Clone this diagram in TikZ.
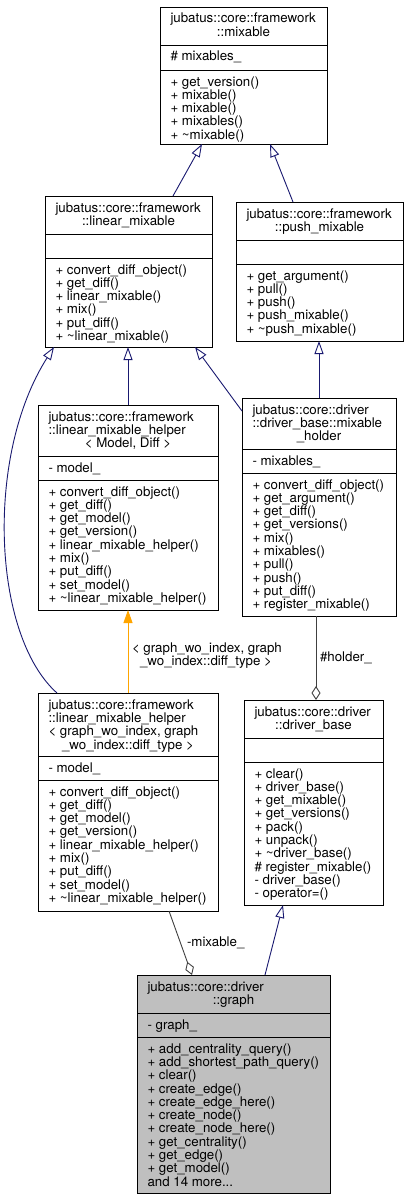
\documentclass[tikz,border=0pt]{standalone}
\usepackage{fontspec}
\setmainfont{TeX Gyre Heros}
\usetikzlibrary{arrows.meta,calc}
\definecolor{edgeblue}{HTML}{191970}
\definecolor{aggr}{HTML}{404040}
\definecolor{tmpl}{HTML}{FFA500}
\definecolor{mainfill}{HTML}{BFBFBF}
\tikzset{
  classbox/.style={draw=black, line width=0.9pt, inner sep=0pt, outer sep=0pt, anchor=north west},
  sepline/.style={draw=black, line width=0.9pt},
  txt/.style={inner sep=0pt, outer sep=0pt, font=\fontsize{13.3}{16}\selectfont},
  inherit/.style={draw=edgeblue, line width=0.9pt, -{Triangle[open, length=13pt, width=9pt]}},
  tmplarrow/.style={draw=tmpl, line width=0.9pt, -{Triangle[length=13pt, width=9pt, fill=tmpl]}},
  aggregate/.style={draw=aggr, line width=0.9pt, -{Diamond[open, length=14pt, width=9pt]}},
}
\newcommand\tdots{...}
\newcommand\mlines[4]{%
  \foreach \t [count=\i from 0] in {#4} {%
    \node[txt, anchor=base west] (#1\i) at (#2, {#3+\i*13.33}) {\t};
  }}
\begin{document}
\begin{tikzpicture}[x=1pt, y=-1pt]
\useasboundingbox (0,0) rectangle (408,1199);
\fill[white] (0,0) rectangle (408,1199);

% ---------- mixable
\node[classbox, minimum width=167pt, minimum height=137pt] (mixable) at (160,7) {};
\draw[sepline] (160,45) -- (327,45);
\draw[sepline] (160,70) -- (327,70);
\node[txt, anchor=base west] (mixT1) at (170.5,23) {jubatus::core::framework};
\node[txt, anchor=base] (mixT2) at (243.5,36.3) {::mixable};
\node[txt, anchor=base west] (mixA) at (170.5,61) {\# mixables\_};
\mlines{mixM}{170.5}{86}{+ get\_version(), + mixable(), + mixable(), + mixables(), + \textasciitilde mixable()}

% ---------- linear_mixable
\node[classbox, minimum width=167pt, minimum height=151pt] (linmix) at (45,196) {};
\draw[sepline] (45,234) -- (212,234);
\draw[sepline] (45,258) -- (212,258);
\node[txt, anchor=base west] (lmT1) at (55.5,212) {jubatus::core::framework};
\node[txt, anchor=base] (lmT2) at (128.5,225.3) {::linear\_mixable};
\mlines{lmM}{55.5}{274}{+ convert\_diff\_object(), + get\_diff(), + linear\_mixable(), + mix(), + put\_diff(), + \textasciitilde linear\_mixable()}

% ---------- push_mixable
\node[classbox, minimum width=167pt, minimum height=139pt] (pushmix) at (236,202) {};
\draw[sepline] (236,240) -- (403,240);
\draw[sepline] (236,264) -- (403,264);
\node[txt, anchor=base west] (pmT1) at (246.5,218) {jubatus::core::framework};
\node[txt, anchor=base] (pmT2) at (319.5,231.3) {::push\_mixable};
\mlines{pmM}{246.5}{280}{+ get\_argument(), + pull(), + push(), + push\_mixable(), + \textasciitilde push\_mixable()}

% ---------- linear_mixable_helper<Model, Diff>
\node[classbox, minimum width=180pt, minimum height=205pt] (helperMD) at (38,405) {};
\draw[sepline] (38,456) -- (218,456);
\draw[sepline] (38,480) -- (218,480);
\node[txt, anchor=base west] (hmT1) at (48.5,421) {jubatus::core::framework};
\node[txt, anchor=base west] (hmT2) at (48.5,434.3) {::linear\_mixable\_helper};
\node[txt, anchor=base] (hmT3) at (128,447.7) {< Model, Diff >};
\node[txt, anchor=base west] (hmA) at (48.5,472) {- model\_};
\mlines{hmM}{48.5}{496}{+ convert\_diff\_object(), + get\_diff(), + get\_model(), + get\_version(), + linear\_mixable\_helper(), + mix(), + put\_diff(), + set\_model(), + \textasciitilde linear\_mixable\_helper()}

% ---------- mixable_holder
\node[classbox, minimum width=154pt, minimum height=218pt] (holder) at (242,398) {};
\draw[sepline] (242,449) -- (396,449);
\draw[sepline] (242,473) -- (396,473);
\node[txt, anchor=base west] (hoT1) at (252.5,414) {jubatus::core::driver};
\node[txt, anchor=base west] (hoT2) at (252.5,427.3) {::driver\_base::mixable};
\node[txt, anchor=base] (hoT3) at (319,440.7) {\_holder};
\node[txt, anchor=base west] (hoA) at (252.5,465) {- mixables\_};
\mlines{hoM}{252.5}{489}{+ convert\_diff\_object(), + get\_argument(), + get\_diff(), + get\_versions(), + mix(), + mixables(), + pull(), + push(), + put\_diff(), + register\_mixable()}

% ---------- linear_mixable_helper<graph_wo_index, ...>
\node[classbox, minimum width=180pt, minimum height=218pt] (helperG) at (38,693) {};
\draw[sepline] (38,756) -- (218,756);
\draw[sepline] (38,780) -- (218,780);
\node[txt, anchor=base west] (hgT1) at (48.5,709) {jubatus::core::framework};
\node[txt, anchor=base west] (hgT2) at (48.5,722.3) {::linear\_mixable\_helper};
\node[txt, anchor=base west] (hgT3) at (48.5,735.7) {< graph\_wo\_index, graph};
\node[txt, anchor=base] (hgT4) at (128,749) {\_wo\_index::diff\_type >};
\node[txt, anchor=base west] (hgA) at (48.5,772) {- model\_};
\mlines{hgM}{48.5}{796}{+ convert\_diff\_object(), + get\_diff(), + get\_model(), + get\_version(), + linear\_mixable\_helper(), + mix(), + put\_diff(), + set\_model(), + \textasciitilde linear\_mixable\_helper()}

% ---------- driver_base
\node[classbox, minimum width=139pt, minimum height=205pt] (driverbase) at (244,700) {};
\draw[sepline] (244,738) -- (383,738);
\draw[sepline] (244,762) -- (383,762);
\node[txt, anchor=base west] (dbT1) at (254.5,716) {jubatus::core::driver};
\node[txt, anchor=base] (dbT2) at (313.5,729.3) {::driver\_base};
\mlines{dbM}{254.5}{778}{+ clear(), + driver\_base(), + get\_mixable(), + get\_versions(), + pack(), + unpack(), + \textasciitilde driver\_base(), \# register\_mixable(), - driver\_base(), - operator=()}

% ---------- graph
\node[classbox, fill=mainfill, minimum width=193pt, minimum height=218pt] (graph) at (137,975) {};
\draw[sepline] (137,1013) -- (330,1013);
\draw[sepline] (137,1037) -- (330,1037);
\node[txt, anchor=base west] (grT1) at (147.5,991) {jubatus::core::driver};
\node[txt, anchor=base] (grT2) at (233.5,1004.3) {::graph};
\node[txt, anchor=base west] (grA) at (147.5,1029) {- graph\_};
\mlines{grM}{147.5}{1053}{+ add\_centrality\_query(), + add\_shortest\_path\_query(), + clear(), + create\_edge(), + create\_edge\_here(), + create\_node(), + create\_node\_here(), + get\_centrality(), + get\_edge(), + get\_model(), and 14 more\tdots}

% ---------- connectors
\draw[inherit] ($(linmix.north west)+(128,0)$) -- ($(mixable.south west)+(42,0)$);
\draw[inherit] ($(pushmix.north west)+(57,0)$) -- ($(mixable.south west)+(110,0)$);
\draw[inherit] ($(helperMD.north west)+(90,0)$) -- ($(linmix.south west)+(83,0)$);
\draw[inherit] ($(holder.north west)+(0,13)$) -- ($(linmix.south west)+(150,0)$);
\draw[inherit] ($(holder.north west)+(77,0)$) -- ($(pushmix.south west)+(83,0)$);
\draw[inherit] ($(helperG.north west)+(19,0)$) .. controls (-8,635) and (-15,455) .. ($(linmix.south west)+(9,0)$);
\draw[tmplarrow] ($(helperG.north west)+(90,0)$) -- ($(helperMD.south west)+(90,0)$);
\node[txt, anchor=base west] (tlab1) at (132,652) {< graph\_wo\_index, graph};
\node[txt, anchor=base] (tlab2) at (206,665.3) {\_wo\_index::diff\_type >};
\draw[aggregate] ($(holder.south west)+(74,0)$) -- ($(driverbase.north west)+(72,0)$);
\node[txt, anchor=base west] (holderlab) at (320,661) {\#holder\_};
\draw[aggregate] ($(helperG.south west)+(131,0)$) -- ($(graph.north west)+(55,0)$);
\node[txt, anchor=base west] (mixablelab) at (187,946) {-mixable\_};
\draw[inherit] ($(graph.north west)+(128,0)$) -- ($(driverbase.south west)+(39,0)$);
\end{tikzpicture}
\end{document}
